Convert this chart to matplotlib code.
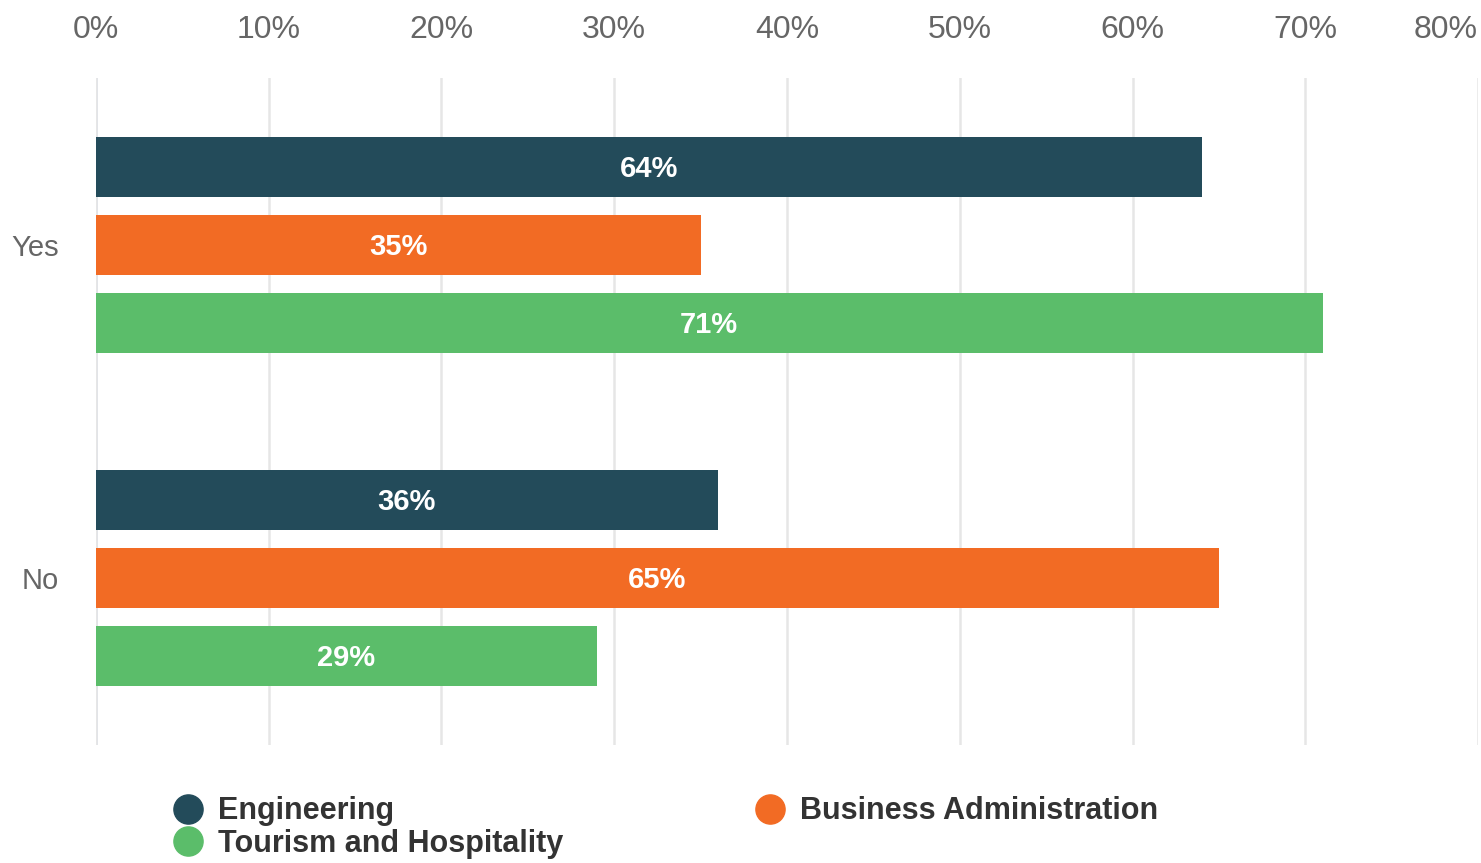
import matplotlib.pyplot as plt
from matplotlib.lines import Line2D

plt.rcParams['font.family'] = ['Liberation Sans', 'DejaVu Sans']

# answers and share of each faculty (percent)
answers = ["Yes", "No"]
faculties = ["Engineering", "Business Administration", "Tourism and Hospitality"]
values = {
    "Engineering": [64, 36],
    "Business Administration": [35, 65],
    "Tourism and Hospitality": [71, 29],
}
colors = {
    "Engineering": "#234B5A",
    "Business Administration": "#F26B24",
    "Tourism and Hospitality": "#5BBD6A",
}
ticks = [0, 10, 20, 30, 40, 50, 60, 70, 80]

fig = plt.figure(figsize=(14.81, 8.63), dpi=100)
ax = fig.add_axes([0.0648, 0.1367, 0.9332, 0.7729])

bar_h = 0.18
step = 0.234
centers = [0.5, 1.5]
for i, fac in enumerate(faculties):
    offs = (i - 1) * step
    ys = [c + offs for c in centers]
    bars = ax.barh(ys, values[fac], height=bar_h, color=colors[fac], zorder=3)
    for b, v in zip(bars, values[fac]):
        ax.text(v / 2, b.get_y() + b.get_height() / 2 + 0.006, f"{v}%",
                ha="center", va="center", color="white", fontsize=21,
                fontweight="bold", zorder=4)

ax.set_xlim(0, 80)
ax.set_ylim(2, 0)
ax.set_xticks(ticks)
ax.set_xticklabels([f"{t}%" for t in ticks])
ax.set_yticks(centers)
ax.set_yticklabels(answers)
ax.xaxis.tick_top()
ax.tick_params(axis="x", length=0, pad=24, labelsize=23, labelcolor="#666666")
ax.tick_params(axis="y", length=0, pad=27, labelsize=21, labelcolor="#666666")
# keep the last tick label inside the figure
ax.get_xticklabels()[-1].set_horizontalalignment("right")
ax.get_xticklabels()[-1].set_x(79.9)
for s in ax.spines.values():
    s.set_visible(False)
ax.grid(axis="x", color="#e6e6e6", linewidth=1.8, zorder=0)
ax.axvline(0, color="#ccd6eb", linewidth=1.8, zorder=1)

order = ["Engineering", "Tourism and Hospitality", "Business Administration"]
handles = [Line2D([], [], marker="o", linestyle="none", markersize=21,
                  color=colors[f]) for f in order]
leg = fig.legend(handles, order, ncol=2, loc="upper left",
                 bbox_to_anchor=(0.105, 0.095), frameon=False,
                 prop={"size": 22, "weight": "bold"}, labelcolor="#333333",
                 handletextpad=0.45, columnspacing=6.2, labelspacing=0.08,
                 borderpad=0, handlelength=1.1)

fig.savefig("out.png", dpi=100)
